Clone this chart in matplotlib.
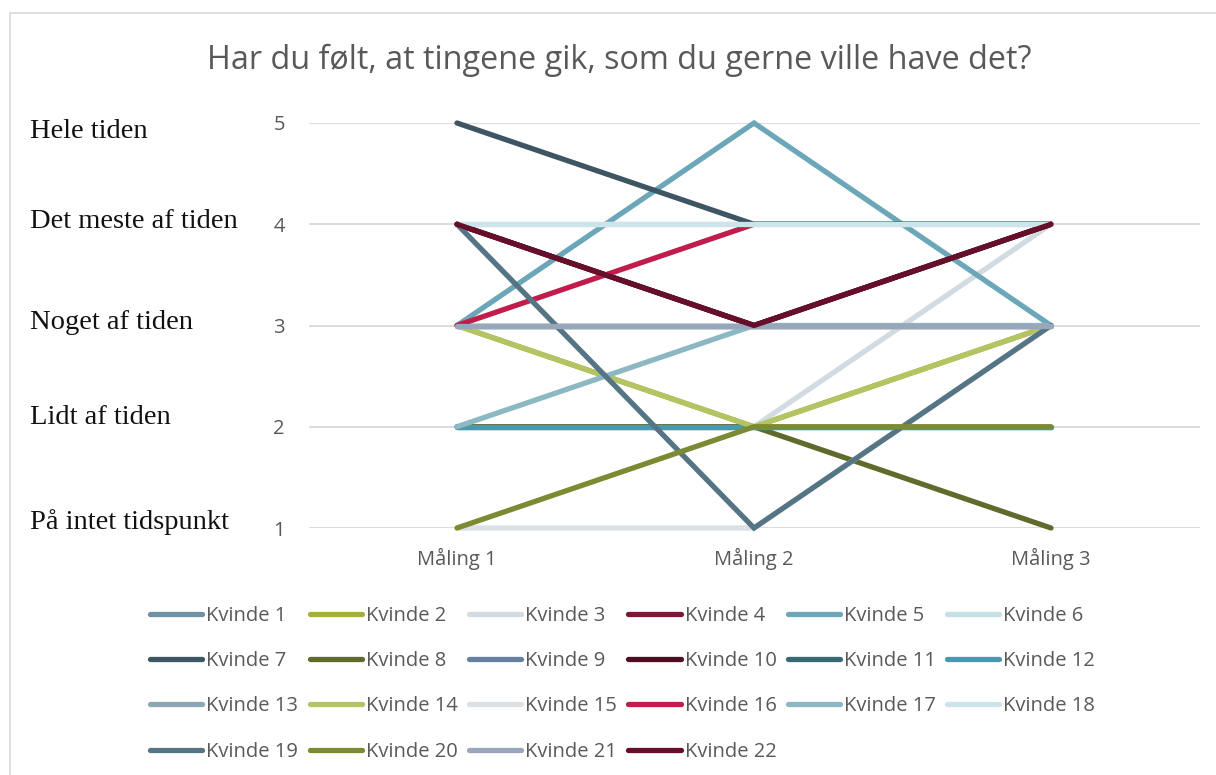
import matplotlib
matplotlib.use("Agg")
import matplotlib.pyplot as plt
from matplotlib.patches import Rectangle

categories = ["Måling 1", "Måling 2", "Måling 3"]
series_names = [f"Kvinde {i}" for i in range(1, 23)]
values = [
    [3, 3, 3],   # Kvinde 1
    [3, 2, 3],   # Kvinde 2
    [2, 2, 4],   # Kvinde 3
    [4, 3, 4],   # Kvinde 4
    [3, 5, 3],   # Kvinde 5
    [4, 4, 4],   # Kvinde 6
    [5, 4, 4],   # Kvinde 7
    [2, 2, 1],   # Kvinde 8
    [3, 3, 3],   # Kvinde 9
    [4, 3, 4],   # Kvinde 10
    [2, 2, 2],   # Kvinde 11
    [2, 2, 2],   # Kvinde 12
    [3, 3, 3],   # Kvinde 13
    [3, 2, 3],   # Kvinde 14
    [1, 1, 3],   # Kvinde 15
    [3, 4, 4],   # Kvinde 16
    [2, 3, 3],   # Kvinde 17
    [4, 4, 4],   # Kvinde 18
    [4, 1, 3],   # Kvinde 19
    [1, 2, 2],   # Kvinde 20
    [3, 3, 3],   # Kvinde 21
    [4, 3, 4],   # Kvinde 22
]
colors = [
    "#7091A3", "#A3B13C", "#D3DBE2", "#7D1735", "#6CA6B9", "#C7E0E7",
    "#3E5563", "#5E6B2B", "#6880A0", "#4E0C1E", "#3A6875", "#4A98AE",
    "#8EA7B5", "#B5C463", "#DCE1E6", "#C01C4C", "#8CB8C4", "#CCE4EA",
    "#557585", "#7B8A33", "#98A8BA", "#650F2B",
]
y_ticks = [1, 2, 3, 4, 5]
y_labels = ["På intet tidspunkt", "Lidt af tiden", "Noget af tiden",
            "Det meste af tiden", "Hele tiden"]
title = "Har du følt, at tingene gik, som du gerne ville have det?"

W, H = 1216, 775
fig = plt.figure(figsize=(W / 100, H / 100), dpi=100)
sans = ["Open Sans", "DejaVu Sans"]
gray = "#595959"

# outer chart border
fig.patches.append(Rectangle((10 / W, -0.02), 1.05, 1 - 13 / H + 0.02,
                             transform=fig.transFigure, fill=False,
                             edgecolor="#D9D9D9", linewidth=1.2))

left, right = 308.5 / W, 1199.5 / W
bottom, top = 1 - 528 / H, 1 - 123 / H
ax = fig.add_axes([left, bottom, right - left, top - bottom])

x = list(range(len(categories)))
handles = []
for name, vals, c in zip(series_names, values, colors):
    ln, = ax.plot(x, vals, color=c, linewidth=3.8, solid_capstyle="round",
                  solid_joinstyle="miter", label=name, clip_on=False, zorder=3)
    handles.append(ln)

ax.set_xlim(-0.5, 2.5)
ax.set_ylim(1, 5)
ax.set_yticks(y_ticks)
ax.set_yticklabels([str(v) for v in y_ticks], fontfamily=sans, fontsize=14.5, color=gray)
ax.set_xticks(x)
ax.set_xticklabels(categories, fontfamily=sans, fontsize=14.5, color=gray)
ax.tick_params(axis="both", length=0)
ax.tick_params(axis="y", pad=17)
ax.tick_params(axis="x", pad=14)
for s in ax.spines.values():
    s.set_visible(False)
ax.grid(axis="y", color="#D9D9D9", linewidth=1.3, zorder=0)
ax.set_axisbelow(True)

fig.text(619 / W, 1 - 60 / H, title, ha="center", va="center",
         fontfamily=sans, fontsize=23.3, color=gray)

label_ys = [522, 417, 322, 222, 131]
for lab, py in zip(y_labels, label_ys):
    fig.text(30 / W, 1 - py / H, lab, ha="left", va="center",
             fontfamily=["Liberation Serif", "DejaVu Serif"], fontsize=20.5, color="#111111")

# legend in row-wise order (Excel style)
ncol = 6
order = []
for c in range(ncol):
    order.extend([i for i in range(c, len(handles), ncol)])
leg = fig.legend([handles[i] for i in order], [series_names[i] for i in order],
                 ncol=ncol, loc="upper left", bbox_to_anchor=(142 / W, 1 - 598 / H),
                 frameon=False, handlelength=2.6, handletextpad=0.2,
                 columnspacing=0.55, labelspacing=1.25, borderaxespad=0,
                 prop={"family": sans, "size": 14.5})
for t in leg.get_texts():
    t.set_color(gray)

fig.savefig("out.png", dpi=100)
